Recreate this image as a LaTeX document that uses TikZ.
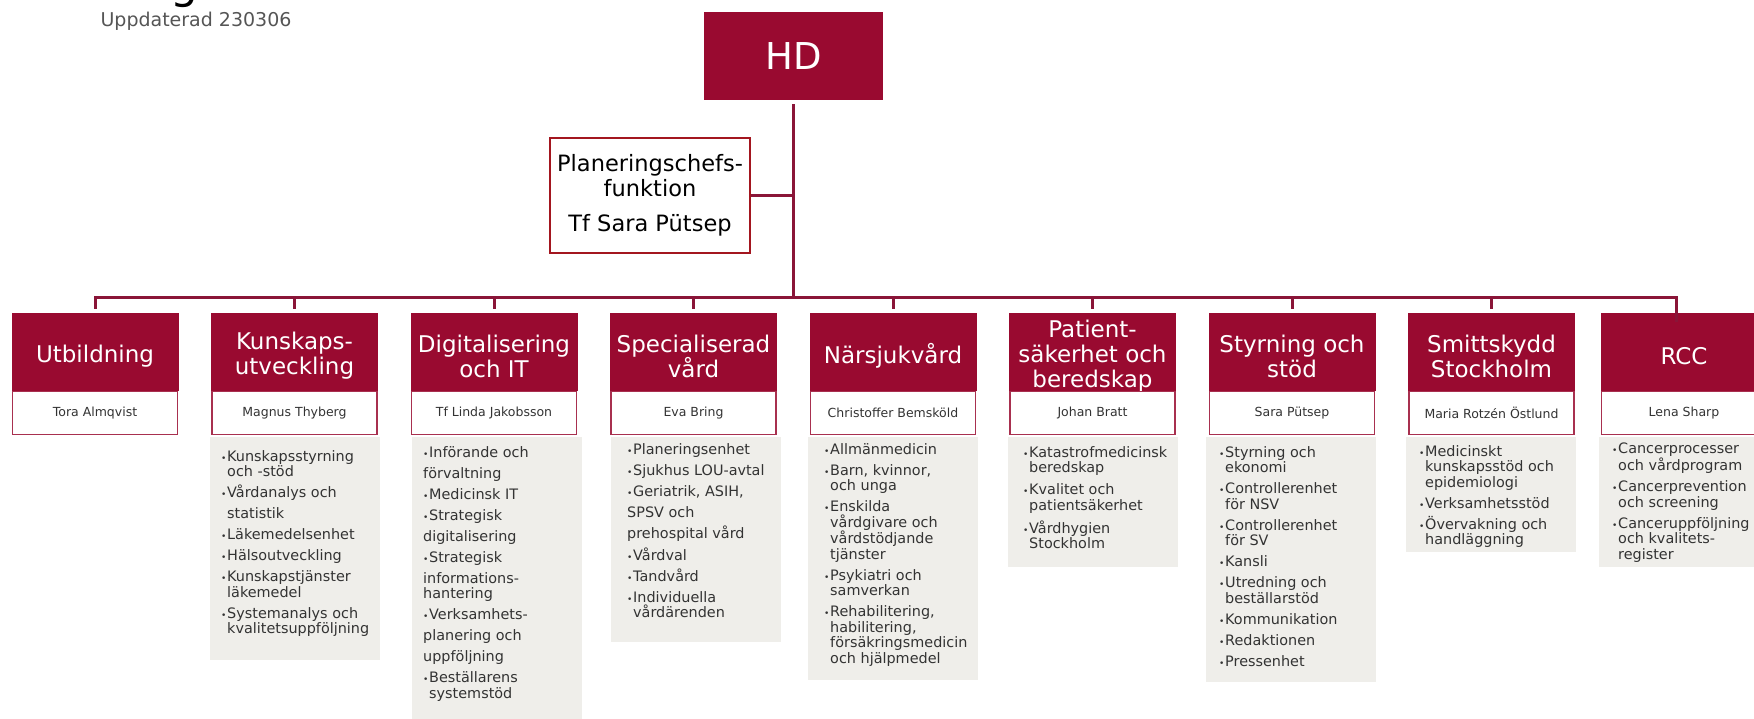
\documentclass[tikz,border=0pt]{standalone}
\usepackage{fontspec}
\setmainfont{DejaVu Sans}
\definecolor{ocred}{HTML}{990A30}
\definecolor{linkred}{HTML}{8A1538}
\definecolor{namered}{HTML}{A8304F}
\definecolor{planred}{HTML}{A3161F}
\definecolor{panelgray}{HTML}{EFEEEA}
\definecolor{txtgray}{HTML}{333333}
\definecolor{updgray}{HTML}{555555}
\newcommand{\itm}{\makebox[6pt][l]{\fontsize{9}{9}\selectfont •}}
\newcommand{\ind}{\hspace*{6pt}}
\begin{document}
\begin{tikzpicture}[x=1pt, y=-1pt,
        head/.style={fill=ocred, minimum width=167pt, minimum height=78pt, inner sep=0pt},
        headtext/.style={text=white, align=center, inner sep=0pt, font=\fontsize{23}{25}\selectfont},
        namebox/.style={draw=namered, line width=1.8pt, fill=white, minimum width=165pt, minimum height=43pt, inner sep=0pt, text=txtgray, font=\fontsize{12.5}{14}\selectfont},
        panel/.style={fill=panelgray, minimum width=170pt, anchor=north, inner sep=0pt},
        items/.style={anchor=north west, align=left, inner sep=0pt, text=txtgray, font=\fontsize{14.4}{15.5}\selectfont},
        link/.style={draw=linkred, line width=3pt}]
        \useasboundingbox (0,0) rectangle (1754,718);
        \node[anchor=base, font=\fontsize{44}{44}\selectfont] (ttl) at (184,-2) {g};
        \node[anchor=west, text=updgray, font=\fontsize{19}{20}\selectfont] (upd) at (97,21) {Uppdaterad 230306};
        \node[fill=ocred, minimum width=179pt, minimum height=88pt, text=white, font=\fontsize{37}{40}\selectfont] (hd) at (793.5,56) {HD};
        \node[draw=planred, line width=2pt, minimum width=200pt, minimum height=115pt, inner sep=2pt, align=center, font=\fontsize{22.5}{25}\selectfont] (plan) at (650,195.5) {Planeringschefs-\\funktion\\[10pt]Tf Sara Pütsep};

        \node[panel, minimum height=223pt] (p2) at (295,437) {};
        \node[panel, minimum height=290pt] (p3) at (497,437) {};
        \node[panel, minimum height=205pt] (p4) at (696,437) {};
        \node[panel, minimum height=243pt] (p5) at (893,437) {};
        \node[panel, minimum height=130pt] (p6) at (1092.5,437) {};
        \node[panel, minimum height=245pt] (p7) at (1291,437) {};
        \node[panel, minimum height=115pt] (p8) at (1491,437) {};
        \node[panel, minimum height=130pt] (p9) at (1684,437) {};

        \foreach \i/\cx/\ttl/\nm in {
            1/95/Utbildning/Tora Almqvist,
            2/294.5/{Kunskaps-\\utveckling}/Magnus Thyberg,
            3/494/{Digitalisering\\och IT}/Tf Linda Jakobsson,
            4/693.5/{Specialiserad\\vård}/Eva Bring,
            5/893/Närsjukvård/Christoffer Bemsköld,
            6/1092.5/{Patient-\\säkerhet och\\beredskap}/Johan Bratt,
            7/1292/{Styrning och\\stöd}/Sara Pütsep,
            8/1491.5/{Smittskydd\\Stockholm}/Maria Rotzén Östlund,
            9/1684/RCC/Lena Sharp} {
            \node[head] (h\i) at (\cx,352) {};
            \node[headtext] (t\i) at (\cx,356) {\ttl};
            \node[namebox] (n\i) at (\cx,413) {\nm};
        }

        \node[items] (l2) at (221,450) {\itm Kunskapsstyrning\\ \ind och -stöd\\[5.5pt]
            \itm Vårdanalys och\\[5.5pt] \ind statistik\\[5.5pt] \itm Läkemedelsenhet\\[5.5pt]
            \itm Hälsoutveckling\\[5.5pt] \itm Kunskapstjänster\\ \ind läkemedel\\[5.5pt]
            \itm Systemanalys och\\ \ind kvalitetsuppföljning};
        \node[items] (l3) at (423,446) {\itm Införande och\\[5.5pt] förvaltning\\[5.5pt]
            \itm Medicinsk IT\\[5.5pt] \itm Strategisk\\[5.5pt] digitalisering\\[5.5pt]
            \itm Strategisk\\[5.5pt] informations-\\ hantering\\[5.5pt]
            \itm Verksamhets-\\[5.5pt] planering och\\[5.5pt] uppföljning\\[5.5pt]
            \itm Beställarens\\ \ind systemstöd};
        \node[items] (l4) at (627,443) {\itm Planeringsenhet\\[5.5pt] \itm Sjukhus LOU-avtal\\[5.5pt]
            \itm Geriatrik, ASIH,\\[5.5pt] SPSV och\\[5.5pt] prehospital vård\\[5.5pt]
            \itm Vårdval\\[5.5pt] \itm Tandvård\\[5.5pt] \itm Individuella\\ \ind vårdärenden};
        \node[items] (l5) at (824,443) {\itm Allmänmedicin\\[5.5pt] \itm Barn, kvinnor,\\ \ind och unga\\[5.5pt]
            \itm Enskilda\\ \ind vårdgivare och\\ \ind vårdstödjande\\ \ind tjänster\\[5.5pt]
            \itm Psykiatri och\\ \ind samverkan\\[5.5pt]
            \itm Rehabilitering,\\ \ind habilitering,\\ \ind försäkringsmedicin\\ \ind och hjälpmedel};
        \node[items] (l6) at (1023,446) {\itm Katastrofmedicinsk\\ \ind beredskap\\[6.5pt]
            \itm Kvalitet och\\ \ind patientsäkerhet\\[6.5pt] \itm Vårdhygien\\ \ind Stockholm};
        \node[items] (l7) at (1219,446) {\itm Styrning och\\ \ind ekonomi\\[5.5pt]
            \itm Controllerenhet\\ \ind för NSV\\[5.5pt] \itm Controllerenhet\\ \ind för SV\\[5.5pt]
            \itm Kansli\\[5.5pt] \itm Utredning och\\ \ind beställarstöd\\[5.5pt]
            \itm Kommunikation\\[5.5pt] \itm Redaktionen\\[5.5pt] \itm Pressenhet};
        \node[items] (l8) at (1419,445) {\itm Medicinskt\\ \ind kunskapsstöd och\\ \ind epidemiologi\\[5.5pt]
            \itm Verksamhetsstöd\\[5.5pt] \itm Övervakning och\\ \ind handläggning};
        \node[items] (l9) at (1612,443) {\itm Cancerprocesser\\ \ind och vårdprogram\\[5.5pt]
            \itm Cancerprevention\\ \ind och screening\\[5.5pt]
            \itm Canceruppföljning\\ \ind och kvalitets-\\ \ind register};

        \coordinate (bus) at (793,297);
        \coordinate (rcc) at (1676,322);
        \draw[link, shorten <=4pt] (hd.south) -- (hd.south |- bus);
        \draw[link] (plan.east) -- (plan.east -| hd.south);
        \draw[link, shorten <=4pt] (h1.north) -- (h1.north |- bus) -- (rcc |- bus) -- (rcc);
        \foreach \i in {2,...,8}
            \draw[link, shorten <=4pt] (h\i.north) -- (h\i.north |- bus);
    \end{tikzpicture}
\end{document}
